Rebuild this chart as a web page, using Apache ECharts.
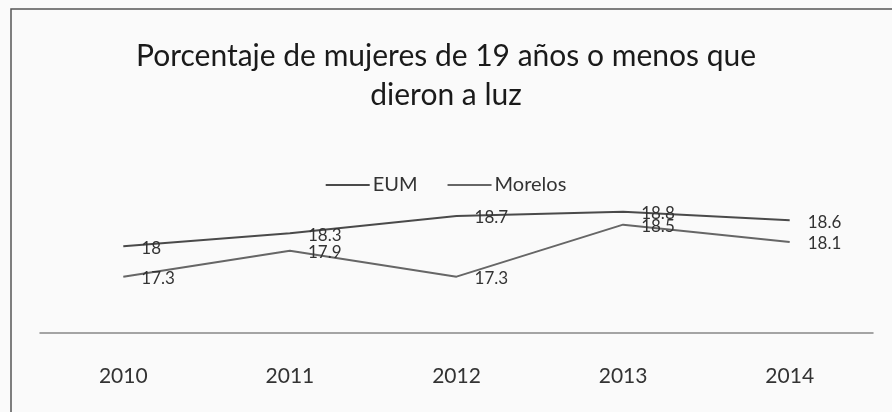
<!DOCTYPE html>
<html>
<head>
<meta charset="utf-8">
<script src="https://cdn.jsdelivr.net/npm/echarts@6/dist/echarts.min.js"></script>
<style>
  html, body { margin: 0; padding: 0; background: #fafafa; }
  #mainCanvas { width: 892px; height: 412px; }
</style>
</head>
<body>
<div id="mainCanvas"></div>
<script>
var years = ['2010', '2011', '2012', '2013', '2014'];
var eum = [18, 18.3, 18.7, 18.8, 18.6];
var morelos = [17.3, 17.9, 17.3, 18.5, 18.1];

var myChart = echarts.init(document.getElementById('mainCanvas'));

var labelStyle = {
    show: true,
    position: 'right',
    distance: 18,
    offset: [0, 2],
    color: '#333',
    fontFamily: 'Lato',
    fontSize: 17
};

var option = {
    backgroundColor: '#fafafa',
    graphic: [{
        type: 'rect',
        shape: { x: 11, y: 9, width: 900, height: 420 },
        style: { fill: 'none', stroke: '#555', lineWidth: 1.5 }
    }],
    title: {
        text: 'Porcentaje de mujeres de 19 años o menos que\ndieron a luz',
        left: 'center',
        top: 32,
        textStyle: {
            fontFamily: 'Lato',
            fontSize: 30,
            fontWeight: 'normal',
            color: '#1a1a1a',
            lineHeight: 39
        }
    },
    legend: {
        top: 170,
        left: 'center',
        icon: 'rect',
        itemWidth: 44,
        itemHeight: 2,
        itemGap: 30,
        textStyle: { fontFamily: 'Lato', fontSize: 20, color: '#333', padding: [0, 0, 0, -2] },
        data: ['EUM', 'Morelos']
    },
    grid: { left: 40, right: 19, top: 203, bottom: 79 },
    xAxis: {
        type: 'category',
        data: years,
        boundaryGap: true,
        axisLine: { lineStyle: { color: '#888', width: 1.5 } },
        axisTick: { show: false },
        axisLabel: { fontFamily: 'Lato', fontSize: 21, color: '#333', margin: 33 }
    },
    yAxis: {
        type: 'value',
        min: 16,
        max: 19,
        show: false,
        splitLine: { show: false }
    },
    series: [
        {
            name: 'EUM',
            type: 'line',
            data: eum,
            symbol: 'circle',
            symbolSize: 0.1,
            color: '#4a4a4a',
            lineStyle: { width: 2, color: '#4a4a4a' },
            label: labelStyle
        },
        {
            name: 'Morelos',
            type: 'line',
            data: morelos,
            symbol: 'circle',
            symbolSize: 0.1,
            color: '#666666',
            lineStyle: { width: 2, color: '#666666' },
            label: labelStyle
        }
    ]
};

myChart.setOption(option);
</script>
</body>
</html>
